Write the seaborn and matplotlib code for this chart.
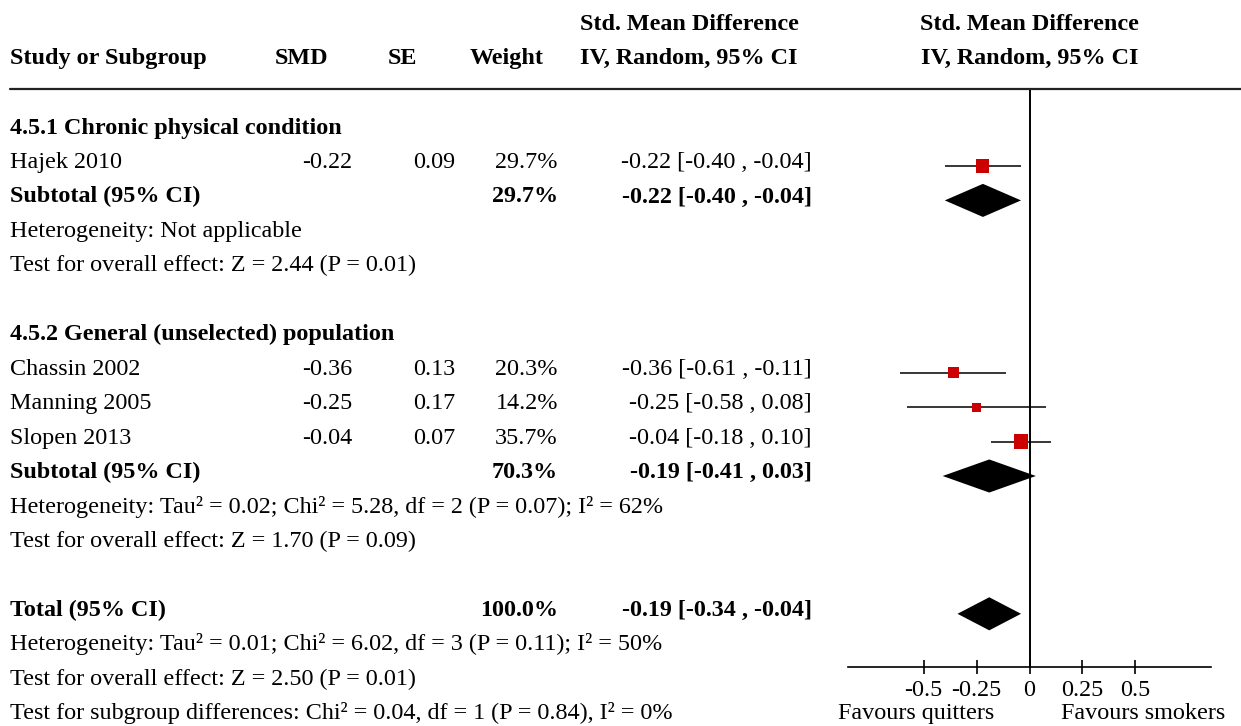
import matplotlib
matplotlib.use("Agg")
import matplotlib.pyplot as plt
import matplotlib.transforms as mtransforms
from matplotlib.lines import Line2D
import seaborn as sns
import pandas as pd

# ---- study level data -------------------------------------------------------
studies = ["Hajek 2010", "Chassin 2002", "Manning 2005", "Slopen 2013"]
study_group = [0, 1, 1, 1]
smd = [-0.22, -0.36, -0.25, -0.04]
se = [0.09, 0.13, 0.17, 0.07]
weight = [29.7, 20.3, 14.2, 35.7]
ci_lo = [-0.40, -0.61, -0.58, -0.18]
ci_hi = [-0.04, -0.11, 0.08, 0.10]

# ---- subgroup pooled results -------------------------------------------------
subgroups = ["4.5.1 Chronic physical condition", "4.5.2 General (unselected) population"]
sub_weight = [29.7, 70.3]
sub_est = [-0.22, -0.19]
sub_lo = [-0.40, -0.41]
sub_hi = [-0.04, 0.03]
sub_het = ["Heterogeneity: Not applicable",
           "Heterogeneity: Tau² = 0.02; Chi² = 5.28, df = 2 (P = 0.07); I² = 62%"]
sub_test = ["Test for overall effect: Z = 2.44 (P = 0.01)",
            "Test for overall effect: Z = 1.70 (P = 0.09)"]

# ---- overall pooled result ---------------------------------------------------
total_weight = 100.0
total_est = -0.19
total_lo = -0.34
total_hi = -0.04
total_het = "Heterogeneity: Tau² = 0.01; Chi² = 6.02, df = 3 (P = 0.11); I² = 50%"
total_test = "Test for overall effect: Z = 2.50 (P = 0.01)"
subgroup_diff = "Test for subgroup differences: Chi² = 0.04, df = 1 (P = 0.84), I² = 0%"

# ---- axis --------------------------------------------------------------------
tick_values = [-0.5, -0.25, 0, 0.25, 0.5]
tick_labels = ["-0.5", "-0.25", "0", "0.25", "0.5"]
favours_left = "Favours quitters"
favours_right = "Favours smokers"
col_headers = ["Study or Subgroup", "SMD", "SE", "Weight"]
effect_header = ["Std. Mean Difference", "IV, Random, 95% CI"]

sns.set_theme(style="white")
plt.rcParams["font.family"] = ["Liberation Serif", "DejaVu Serif"]
plt.rcParams["axes.unicode_minus"] = False
plt.rcParams["text.color"] = "black"
plt.rcParams["xtick.color"] = "black"
plt.rcParams["xtick.labelcolor"] = "black"

W, H = 1241, 726
FS = 17.4
RED = "#CC0000"

fig = plt.figure(figsize=(W / 100, H / 100), dpi=100)

# forest panel: rows are the y unit, top at the header rule, bottom at the scale
row0_px, row_step = 131.5, 34.45
top_px, axis_px = 89, 667
x_min, x_max = -0.857, 0.857
ax_left, ax_right = 848, 1211
ax = fig.add_axes([ax_left / W, 1 - axis_px / H, (ax_right - ax_left) / W, (axis_px - top_px) / H])
ax.set_xlim(x_min, x_max)
ax.set_ylim((axis_px - row0_px) / row_step, (top_px - row0_px) / row_step)
for side in ("top", "left", "right"):
    ax.spines[side].set_visible(False)
ax.spines["bottom"].set_linewidth(1.2)
ax.spines["bottom"].set_color("black")
ax.set_yticks([])
ax.set_xticks(tick_values)
ax.set_xticklabels(tick_labels, fontsize=FS)
ax.tick_params(axis="x", bottom=True, direction="inout", length=10, width=1.2,
               color="black", labelcolor="black", pad=4)
ax.axvline(0, color="black", lw=1.4, zorder=1)
ax.patch.set_alpha(0)

# assign table rows
study_rows = []
sub_rows = []
header_rows = []
het_rows = []
test_rows = []
r = 0
for g, name in enumerate(subgroups):
    header_rows.append(r)
    r += 1
    for i, grp in enumerate(study_group):
        if grp == g:
            study_rows.append(r)
            r += 1
    sub_rows.append(r)
    het_rows.append(r + 1)
    test_rows.append(r + 2)
    r += 4
total_row = r
total_het_row, total_test_row, diff_row = r + 1, r + 2, r + 3

# confidence interval whiskers and weighted squares
ax.hlines(study_rows, ci_lo, ci_hi, color="black", lw=1.1, zorder=2)
df = pd.DataFrame({"smd": smd, "row": study_rows, "weight": weight})
sns.scatterplot(data=df, x="smd", y="row", marker="s", color=RED,
                s=[3.0 * w for w in weight], linewidth=0, ax=ax, zorder=3, legend=False)
ax.set_xlabel("")
ax.set_ylabel("")


def diamond(est, lo, hi, row, half=0.48):
    ax.fill([lo, est, hi, est], [row, row - half, row, row + half],
            color="black", lw=0, zorder=3)


for est, lo, hi, row in zip(sub_est, sub_lo, sub_hi, sub_rows):
    diamond(est, lo, hi, row)
diamond(total_est, total_lo, total_hi, total_row)

# table text: x in figure fraction, y in rows
trans = mtransforms.blended_transform_factory(fig.transFigure, ax.transData)
BASE = 0.06


def put(x_px, row, s, ha="left", bold=False):
    ax.text(x_px / W, row + BASE, s, transform=trans, ha=ha, va="baseline",
            fontsize=FS, fontweight="bold" if bold else "normal", clip_on=False,
            color="black")


def ci_text(est, lo, hi):
    return f"{est:.2f} [{lo:.2f} , {hi:.2f}]"


X_LABEL, X_SMD, X_SE, X_W, X_CI = 10, 352, 455, 558, 812
for g, name in enumerate(subgroups):
    put(X_LABEL, header_rows[g], name, bold=True)
    put(X_LABEL, sub_rows[g], "Subtotal (95% CI)", bold=True)
    put(X_W, sub_rows[g], f"{sub_weight[g]:.1f}%", ha="right", bold=True)
    put(X_CI, sub_rows[g], ci_text(sub_est[g], sub_lo[g], sub_hi[g]), ha="right", bold=True)
    put(X_LABEL, het_rows[g], sub_het[g])
    put(X_LABEL, test_rows[g], sub_test[g])
for i, row in enumerate(study_rows):
    put(X_LABEL, row, studies[i])
    put(X_SMD, row, f"{smd[i]:.2f}", ha="right")
    put(X_SE, row, f"{se[i]:.2f}", ha="right")
    put(X_W, row, f"{weight[i]:.1f}%", ha="right")
    put(X_CI, row, ci_text(smd[i], ci_lo[i], ci_hi[i]), ha="right")
put(X_LABEL, total_row, "Total (95% CI)", bold=True)
put(X_W, total_row, f"{total_weight:.1f}%", ha="right", bold=True)
put(X_CI, total_row, ci_text(total_est, total_lo, total_hi), ha="right", bold=True)
put(X_LABEL, total_het_row, total_het)
put(X_LABEL, total_test_row, total_test)
put(X_LABEL, diff_row, subgroup_diff)
put(916, diff_row, favours_left, ha="center")
put(1143, diff_row, favours_right, ha="center")

# column headers
def head(x_px, y_px, s, ha="left"):
    fig.text(x_px / W, 1 - y_px / H, s, ha=ha, va="baseline", fontsize=FS,
             fontweight="bold", color="black")


head(10, 64, col_headers[0])
head(301, 64, col_headers[1], ha="center")
head(402, 64, col_headers[2], ha="center")
head(507, 64, col_headers[3], ha="center")
head(689, 30, effect_header[0], ha="center")
head(689, 64, effect_header[1], ha="center")
head(1029.5, 30, effect_header[0], ha="center")
head(1029.5, 64, effect_header[1], ha="center")

# header rule
fig.add_artist(Line2D([10 / W, 1.0], [1 - top_px / H, 1 - top_px / H],
                      transform=fig.transFigure, color="#222222", lw=1.6))

fig.savefig("out.png", dpi=100)
